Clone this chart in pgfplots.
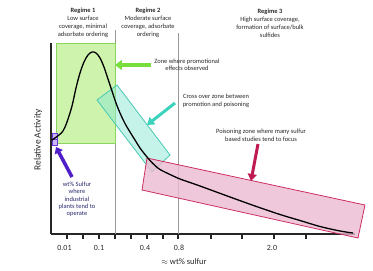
\documentclass[border=0pt]{standalone}
\usepackage{pgfplots}
\pgfplotsset{compat=1.18}
\usepackage{fontspec}
\setmainfont{Carlito}
\usetikzlibrary{arrows.meta}
\definecolor{gfill}{RGB}{205,243,172}
\definecolor{gedge}{RGB}{140,212,90}
\definecolor{garrow}{RGB}{120,222,60}
\definecolor{cfill}{RGB}{140,232,212}
\definecolor{cedge}{RGB}{70,200,180}
\definecolor{carrow}{RGB}{60,210,190}
\definecolor{pfill}{RGB}{236,186,210}
\definecolor{pedge}{RGB}{205,45,95}
\definecolor{parrow}{RGB}{190,25,80}
\definecolor{ufill}{RGB}{200,180,245}
\definecolor{uedge}{RGB}{110,60,220}
\definecolor{uarrow}{RGB}{80,30,200}
\definecolor{utext}{RGB}{40,40,110}
\definecolor{txt}{RGB}{40,40,40}
\begin{document}
\begin{tikzpicture}
\begin{axis}[
  x=1bp, y=1bp,
  xmin=51, xmax=355, ymin=37, ymax=228,
  axis x line=bottom, axis y line=left,
  axis line style={-, line width=1.3bp, black!85},
  xtick={67,83,99,115,131,147,163,178,211,242,274,306},
  xticklabels={,,,,,,,,,,,},
  ytick=\empty,
  tick align=outside,
  major tick length=4.5bp,
  tick style={line width=1.1bp, black!85},
  extra x ticks={64.5,99,145,179,272},
  extra x tick labels={0.01,0.1,0.4,0.8,2.0},
  extra x tick style={major tick length=0pt},
  xticklabel style={font=\fontsize{8}{9}\selectfont, text=txt, yshift=-8bp},
  xlabel={$\approx$ wt\% sulfur},
  ylabel={Relative Activity},
  every axis x label/.style={at={(axis cs:184,9)}, anchor=center, font=\fontsize{8.5}{10}\selectfont, text=txt},
  every axis y label/.style={at={(axis cs:38,131)}, anchor=center, rotate=90, font=\fontsize{9.5}{11}\selectfont, text=txt},
  clip=false,
]
% page frame
\path (axis cs:0,0) rectangle (axis cs:373,271);
% regime boundaries
\addplot[gray!80, line width=0.8bp] coordinates {(115,241) (115,37)};
\addplot[gray!80, line width=0.8bp] coordinates {(178,238) (178,37)};
% zones
\addplot[fill=gfill, draw=gedge, line width=0.8bp] coordinates {(56,128) (115,128) (115,228) (56,228)} -- cycle;
\addplot[fill=cfill, fill opacity=0.5, draw=cedge, line width=0.8bp] coordinates {(97,171) (117,186) (170,116) (152,99)} -- cycle;
\addplot[fill=pfill, fill opacity=0.8, draw=pedge, line width=0.8bp] coordinates {(147,113) (365,66) (358,33) (142,81)} -- cycle;
\addplot[fill=ufill, draw=uedge, line width=0.8bp] coordinates {(52,138) (57,138) (57,132) (52,132)} -- cycle;
\addplot[fill=ufill, draw=uedge, line width=0.8bp] coordinates {(52,132) (57,132) (57,126) (52,126)} -- cycle;
% activity curve
\addplot[black, line width=1.3bp, smooth, tension=0.55] coordinates {
(52,131) (55,133) (59,136) (63,140) (67,149) (72,165) (76,183) (80,198)
(84,209) (88,216) (92,219) (96,218) (100,213) (104,204) (108,192) (112,180)
(116,168) (120,158) (125,147.5) (130,139) (135,131) (140,123) (145,116.5)
(150,110.5) (155,105.5) (160,101.5) (170,96.5) (180,92) (190,88.5) (200,85)
(215,79.5) (230,74) (255,65) (280,56.5) (300,50.5) (320,44.5) (340,40) (353,38)};
% arrows
\addplot[garrow, line width=3.5bp, -{Triangle[width=10bp,length=7bp]}] coordinates {(151,206) (115,206)};
\addplot[carrow, line width=3bp, -{Triangle[width=9bp,length=7bp]}] coordinates {(175,168) (147,146)};
\addplot[parrow, line width=3bp, -{Triangle[width=9bp,length=7bp]}] coordinates {(258,127) (251,90)};
\addplot[uarrow, line width=3.5bp, -{Triangle[width=9bp,length=6bp]}] coordinates {(72,94) (56,124)};
% texts
\node[align=center, font=\fontsize{6.5}{8}\selectfont, text=txt] at (axis cs:83,248) {\textbf{Regime 1}\\Low surface\\coverage, minimal\\adsorbate ordering};
\node[align=center, font=\fontsize{6.5}{8}\selectfont, text=txt] at (axis cs:148,248) {\textbf{Regime 2}\\Moderate surface\\coverage, adsorbate\\ordering};
\node[align=center, font=\fontsize{6.5}{8}\selectfont, text=txt] at (axis cs:270,248) {\textbf{Regime 3}\\High surface coverage,\\formation of surface/bulk\\sulfides};
\node[align=center, font=\fontsize{6.5}{7.5}\selectfont, text=txt] at (axis cs:187,206) {Zone where promotional\\effects observed};
\node[align=center, font=\fontsize{6.5}{7.5}\selectfont, text=txt] at (axis cs:216,170) {Cross over zone between\\promotion and poisoning};
\node[align=center, font=\fontsize{6.5}{7.5}\selectfont, text=txt] at (axis cs:261,135.5) {Poisoning zone where many sulfur\\based studies tend to focus};
\node[align=center, font=\fontsize{6.5}{7.3}\selectfont, text=utext] at (axis cs:77,71.5) {wt\% Sulfur\\where\\industrial\\plants tend to\\operate};
\end{axis}
\end{tikzpicture}
\end{document}
